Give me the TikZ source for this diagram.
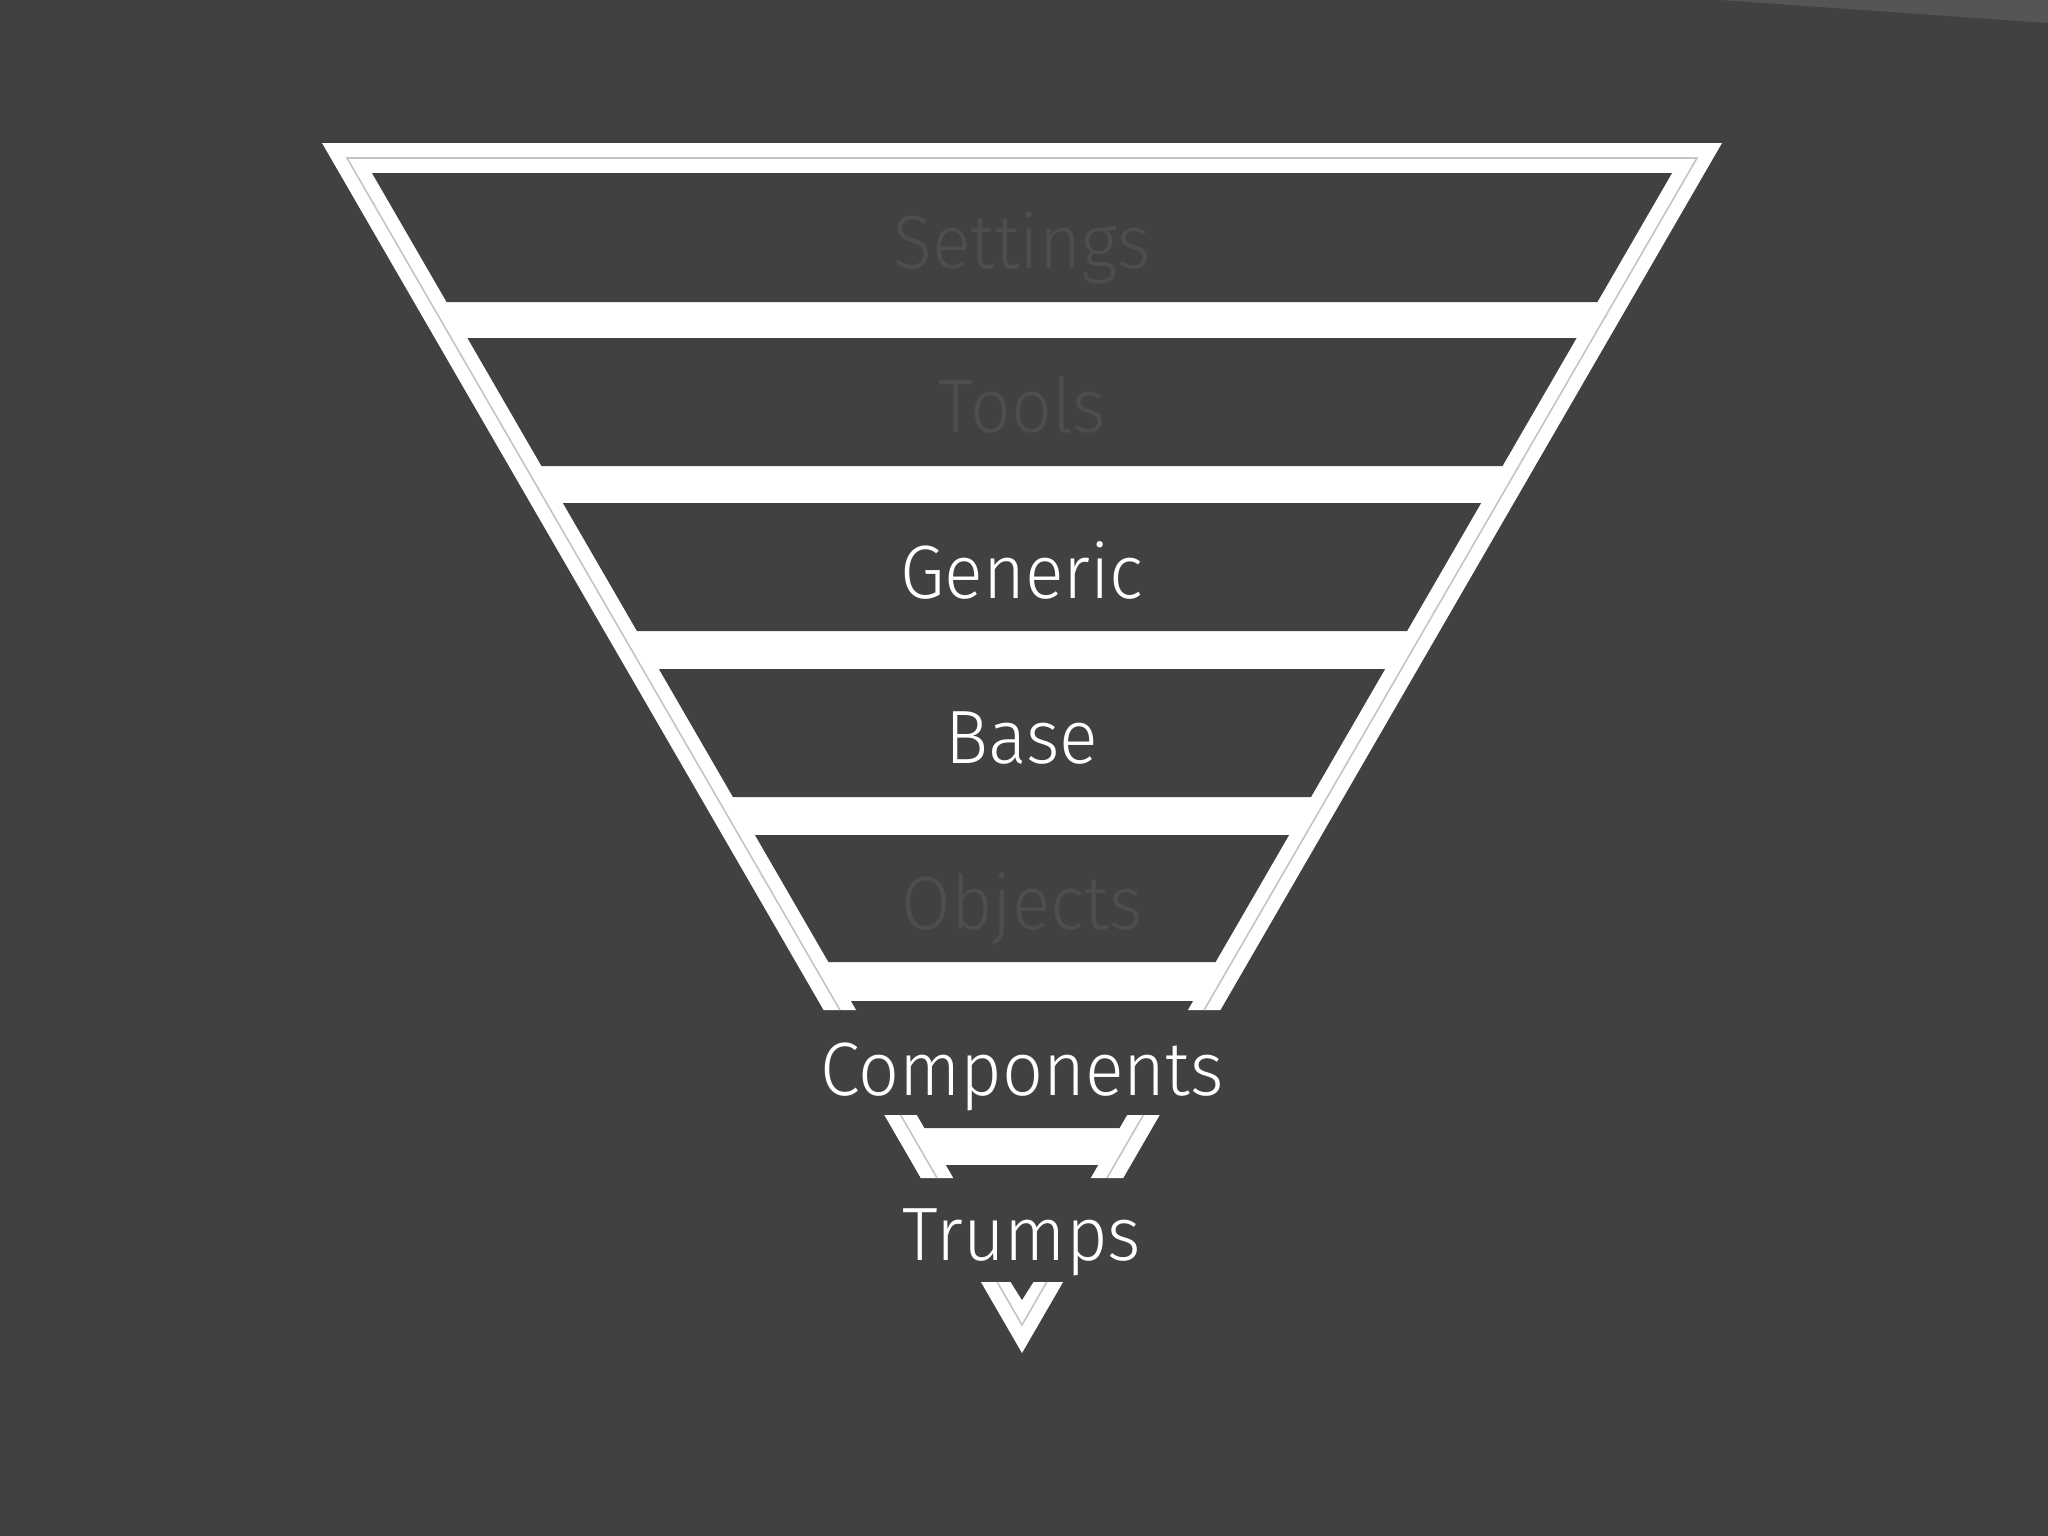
\documentclass[tikz,border=0pt]{standalone}
\usepackage{fontspec}
\newfontfamily\dinfont[FakeStretch=0.95, UprightFont=* Light]{Fira Sans}
\definecolor{bgc}{HTML}{414141}
\definecolor{wedge}{HTML}{555555}
\definecolor{faint}{HTML}{4E4E4E}
\definecolor{midline}{HTML}{C4C4C4}
\newcommand\XO[1]{239.3+0.5785*#1}
\newcommand\XI[1]{271.9+0.5785*#1}
\newcommand\XM[1]{255.6+0.5785*#1}
\tikzset{
  whitepart/.style={fill=white, draw=none},
  darkpart/.style={fill=bgc, draw=none},
  thinline/.style={draw=midline, line width=0.45pt},
  lbl/.style={anchor=base, inner sep=0pt, font=\dinfont\fontsize{21.5}{26}\selectfont},
  brightlbl/.style={lbl, text=white},
  faintlbl/.style={lbl, text=faint}
}
\begin{document}
\begin{tikzpicture}[x=0.01cm, y=-0.01cm]
\fill[bgc] (0,0) rectangle (2048,1536);
\useasboundingbox (0,0) rectangle (2048,1536);
\fill[wedge] (1720,0) -- (2048,0) -- (2048,23) -- cycle;
% main piece
\path[whitepart] ({\XO{143}},143) -- ({2044-(\XO{143})},143) -- ({2044-(\XO{1010})},1010) -- ({\XO{1010}},1010) -- cycle;
\foreach \t/\b in {173/302, 338/466, 503/631, 669/797, 835/962, 1001/1011}{
  \path[darkpart] ({\XI{\t}},\t) -- ({2044-(\XI{\t})},\t) -- ({2044-(\XI{\b})},\b) -- ({\XI{\b}},\b) -- cycle;
}
\draw[thinline] ({\XM{1010}},1010) -- ({\XM{158}},158) -- ({2044-(\XM{158})},158) -- ({2044-(\XM{1010})},1010);
% small piece
\path[whitepart] ({\XO{1115}},1115) -- ({2044-(\XO{1115})},1115) -- ({2044-(\XO{1178})},1178) -- ({\XO{1178}},1178) -- cycle;
\foreach \t/\b in {1114/1128, 1165/1179}{
  \path[darkpart] ({\XI{\t}},\t) -- ({2044-(\XI{\t})},\t) -- ({2044-(\XI{\b})},\b) -- ({\XI{\b}},\b) -- cycle;
}
\draw[thinline] ({\XM{1115}},1115) -- ({\XM{1178}},1178);
\draw[thinline] ({2044-(\XM{1115})},1115) -- ({2044-(\XM{1178})},1178);
% apex piece
\path[whitepart] ({\XO{1282}},1282) -- ({2044-(\XO{1282})},1282) -- (1022,1353) -- cycle;
\path[darkpart] (1010,1281) -- (1034,1281) -- (1022,1300) -- cycle;
\draw[thinline] ({\XM{1282}},1282) -- (1022,1325) -- ({2044-(\XM{1282})},1282);
% labels
\node[faintlbl] (settings) at (1022,268) {Settings};
\node[faintlbl] (tools) at (1022,432) {Tools};
\node[brightlbl] (generic) at (1022,598) {Generic};
\node[brightlbl] (base) at (1022,763) {Base};
\node[faintlbl] (objects) at (1022,929) {Objects};
\node[brightlbl] (components) at (1022,1095) {Components};
\node[brightlbl] (trumps) at (1022,1260) {Trumps};
\end{tikzpicture}
\end{document}
